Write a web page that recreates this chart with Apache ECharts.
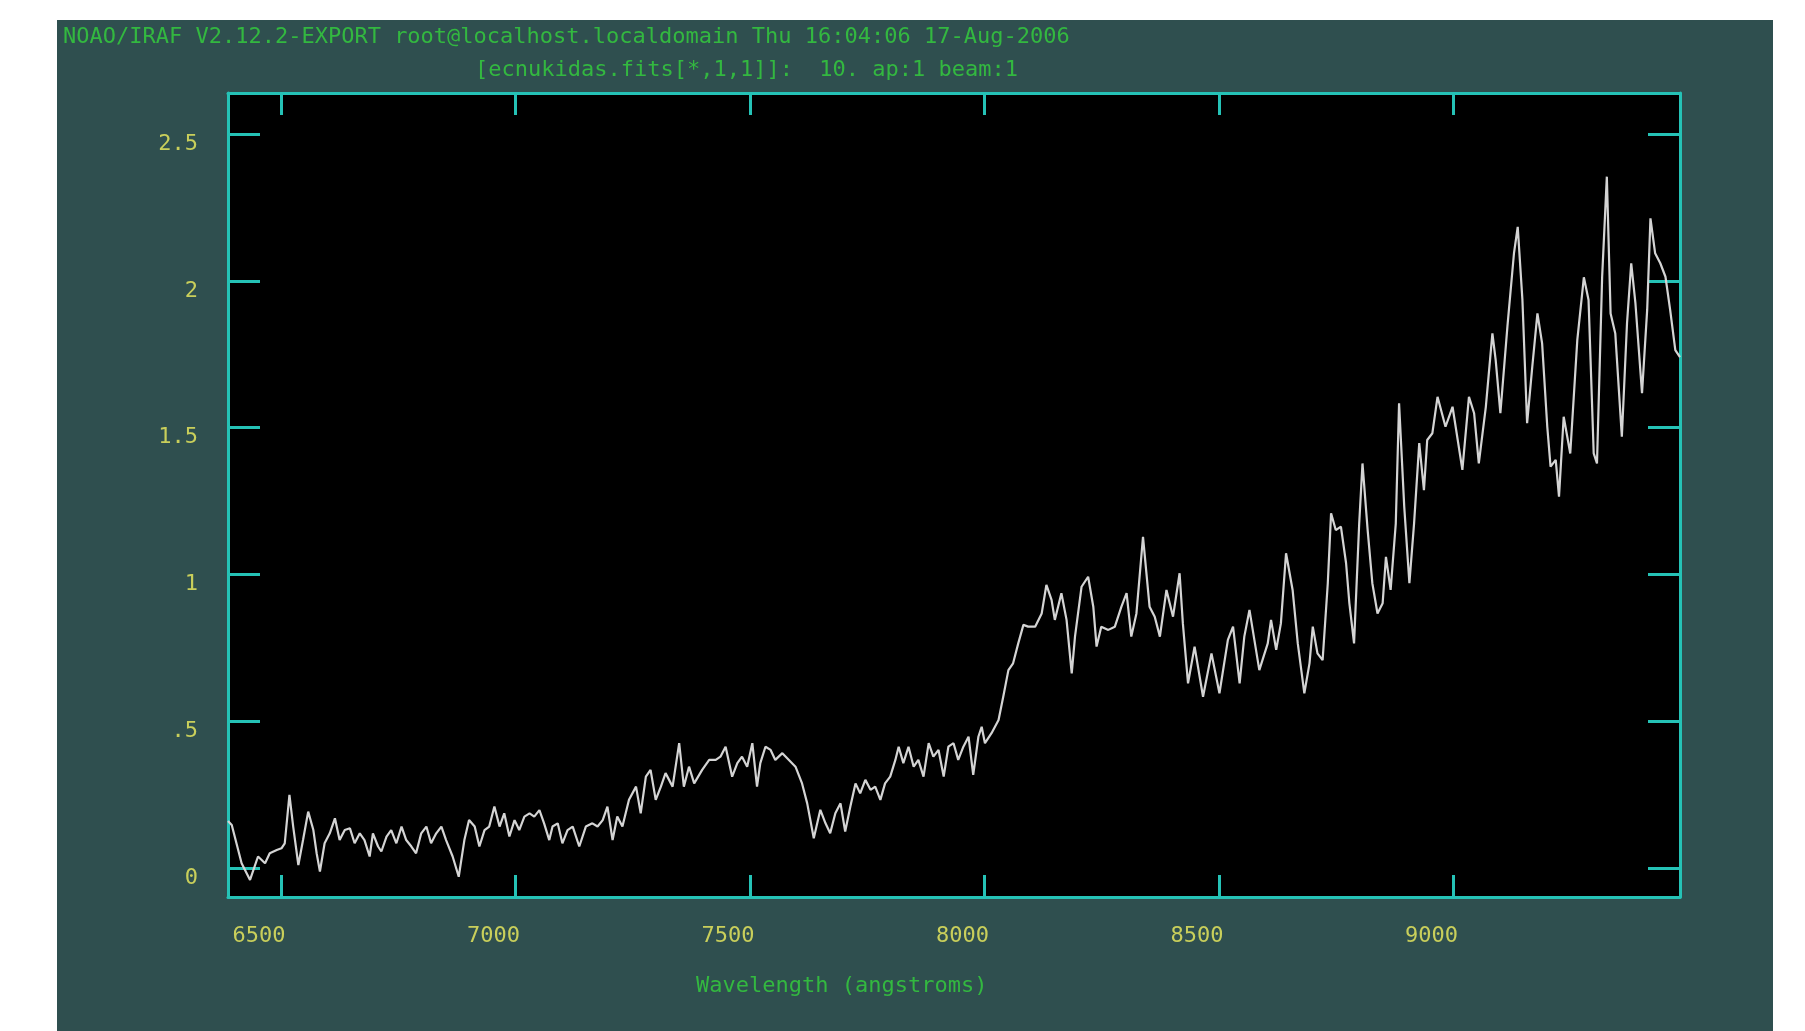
<!DOCTYPE html>
<html>
<head>
<meta charset="utf-8">
<script src="https://cdn.jsdelivr.net/npm/echarts@6/dist/echarts.min.js"></script>
<style>
  html, body { margin: 0; padding: 0; background: #ffffff; }
  #chart { position: absolute; left: 57px; top: 20px; width: 1716px; height: 1011px; }
</style>
</head>
<body>
<div id="chart"></div>
<script>
// Extracted spectrum, aperture 1: wavelength (angstroms) and flux
const wavelength = [
  6387, 6395, 6416, 6434, 6451, 6466, 6476, 6491, 6501, 6508,
  6518, 6526, 6537, 6547, 6558, 6569, 6576, 6583, 6593, 6604,
  6615, 6625, 6636, 6647, 6657, 6668, 6678, 6689, 6696, 6707,
  6714, 6725, 6735, 6746, 6757, 6767, 6778, 6788, 6799, 6810,
  6820, 6831, 6842, 6852, 6866, 6879, 6891, 6901, 6913, 6923,
  6934, 6944, 6955, 6966, 6976, 6987, 6998, 7008, 7019, 7030,
  7040, 7051, 7061, 7072, 7079, 7090, 7100, 7111, 7122, 7136,
  7150, 7164, 7175, 7186, 7196, 7207, 7217, 7228, 7242, 7257,
  7267, 7278, 7288, 7299, 7310, 7320, 7335, 7349, 7359, 7370,
  7381, 7398, 7413, 7427, 7437, 7448, 7462, 7473, 7483, 7494,
  7505, 7515, 7522, 7533, 7544, 7554, 7569, 7583, 7597, 7611,
  7622, 7636, 7650, 7661, 7671, 7682, 7693, 7703, 7714, 7725,
  7735, 7746, 7757, 7767, 7778, 7788, 7799, 7810, 7817, 7827,
  7838, 7849, 7859, 7870, 7881, 7891, 7902, 7913, 7923, 7934,
  7944, 7955, 7966, 7976, 7987, 7994, 8001, 8015, 8030, 8040,
  8051, 8061, 8072, 8083, 8093, 8108, 8122, 8132, 8143, 8150,
  8164, 8175, 8186, 8193, 8207, 8221, 8232, 8239, 8249, 8264,
  8278, 8292, 8303, 8313, 8324, 8338, 8352, 8363, 8374, 8388,
  8402, 8416, 8423, 8434, 8448, 8466, 8484, 8501, 8519, 8530,
  8544, 8554, 8565, 8586, 8604, 8611, 8622, 8632, 8643, 8657,
  8668, 8682, 8693, 8700, 8710, 8721, 8732, 8739, 8749, 8760,
  8771, 8778, 8788, 8799, 8806, 8817, 8827, 8838, 8849, 8856,
  8866, 8877, 8884, 8895, 8906, 8916, 8927, 8937, 8944, 8955,
  8966, 8983, 8998, 9019, 9033, 9044, 9054, 9069, 9083, 9090,
  9100, 9115, 9129, 9137, 9147, 9157, 9168, 9179, 9189, 9200,
  9207, 9218, 9225, 9235, 9249, 9264, 9278, 9288, 9299, 9306,
  9317, 9327, 9335, 9345, 9359, 9370, 9379, 9388, 9402, 9413,
  9420, 9430, 9441, 9452, 9462, 9473, 9483
];
const flux = [
  0.160, 0.146, 0.016, -0.041, 0.039, 0.016, 0.050, 0.061, 0.067, 0.084,
  0.249, 0.141, 0.010, 0.095, 0.192, 0.129, 0.050, -0.012, 0.084, 0.118,
  0.169, 0.095, 0.129, 0.135, 0.084, 0.118, 0.095, 0.039, 0.118, 0.073,
  0.056, 0.107, 0.129, 0.084, 0.141, 0.095, 0.073, 0.050, 0.118, 0.141,
  0.084, 0.118, 0.141, 0.095, 0.039, -0.030, 0.095, 0.163, 0.141, 0.073,
  0.129, 0.141, 0.209, 0.141, 0.186, 0.107, 0.163, 0.129, 0.175, 0.186,
  0.175, 0.197, 0.152, 0.095, 0.141, 0.152, 0.084, 0.129, 0.141, 0.073,
  0.141, 0.152, 0.141, 0.163, 0.209, 0.095, 0.175, 0.141, 0.232, 0.277,
  0.186, 0.311, 0.334, 0.232, 0.277, 0.323, 0.277, 0.425, 0.277, 0.345,
  0.288, 0.334, 0.368, 0.368, 0.379, 0.413, 0.311, 0.357, 0.379, 0.345,
  0.425, 0.277, 0.357, 0.413, 0.402, 0.368, 0.391, 0.368, 0.345, 0.288,
  0.220, 0.101, 0.198, 0.152, 0.118, 0.186, 0.220, 0.124, 0.209, 0.288,
  0.254, 0.300, 0.266, 0.277, 0.232, 0.288, 0.311, 0.368, 0.413, 0.357,
  0.413, 0.345, 0.368, 0.311, 0.425, 0.379, 0.402, 0.311, 0.413, 0.425,
  0.368, 0.413, 0.447, 0.317, 0.447, 0.481, 0.425, 0.459, 0.504, 0.583,
  0.674, 0.697, 0.765, 0.828, 0.822, 0.822, 0.867, 0.964, 0.913, 0.845,
  0.936, 0.845, 0.663, 0.788, 0.958, 0.992, 0.890, 0.754, 0.822, 0.811,
  0.822, 0.890, 0.936, 0.788, 0.867, 1.128, 0.890, 0.856, 0.788, 0.947,
  0.856, 1.004, 0.833, 0.629, 0.754, 0.583, 0.731, 0.595, 0.777, 0.822,
  0.629, 0.788, 0.879, 0.674, 0.765, 0.845, 0.743, 0.833, 1.072, 0.947,
  0.765, 0.595, 0.697, 0.822, 0.731, 0.708, 0.970, 1.208, 1.151, 1.163,
  1.038, 0.902, 0.765, 1.174, 1.378, 1.151, 0.970, 0.867, 0.902, 1.060,
  0.947, 1.174, 1.583, 1.231, 0.970, 1.174, 1.447, 1.287, 1.458, 1.481,
  1.605, 1.503, 1.571, 1.356, 1.605, 1.549, 1.378, 1.571, 1.821, 1.730,
  1.549, 1.844, 2.094, 2.184, 1.935, 1.515, 1.707, 1.889, 1.787, 1.503,
  1.367, 1.390, 1.265, 1.537, 1.412, 1.798, 2.012, 1.935, 1.412, 1.378,
  2.014, 2.355, 1.889, 1.821, 1.469, 1.855, 2.060, 1.923, 1.617, 1.901,
  2.213, 2.094, 2.060, 2.014, 1.901, 1.764, 1.740
];

// Axis ticks and their printed labels
const xTicks = [6500, 7000, 7500, 8000, 8500, 9000];
const yTicks = [0, 0.5, 1, 1.5, 2, 2.5];
const yTickLabels = ['0', '.5', '1', '1.5', '2', '2.5'];

const titleLine1 = 'NOAO/IRAF V2.12.2-EXPORT root@localhost.localdomain Thu 16:04:06 17-Aug-2006';
const titleLine2 = '[ecnukidas.fits[*,1,1]]:  10. ap:1 beam:1';
const xAxisTitle = 'Wavelength (angstroms)';

const points = wavelength.map((w, i) => [w, flux[i]]);

const FRAME = '#25c2b6';
const LABEL = '#c9cf5b';
const TITLE = '#33b840';
const MONO = "'DejaVu Sans Mono', 'Liberation Mono', monospace";

const chart = echarts.init(document.getElementById('chart'), null, { renderer: 'canvas' });

const frameLine = { show: true, onZero: false, lineStyle: { color: FRAME, width: 3 } };

chart.setOption({
  animation: false,
  backgroundColor: '#2f4f4f',
  title: [
    { text: titleLine1, left: 6, top: 6, padding: 0,
      textStyle: { color: TITLE, fontFamily: MONO, fontSize: 22, fontWeight: 'normal' } },
    { text: titleLine2, left: 418, top: 39, padding: 0,
      textStyle: { color: TITLE, fontFamily: MONO, fontSize: 22, fontWeight: 'normal' } },
    { text: xAxisTitle, left: 639, top: 955, padding: 0,
      textStyle: { color: TITLE, fontFamily: MONO, fontSize: 22, fontWeight: 'normal' } }
  ],
  grid: {
    left: 171, right: 93, top: 73, bottom: 134,
    show: true, backgroundColor: '#000000', borderWidth: 0
  },
  xAxis: [
    {
      type: 'value', position: 'bottom', min: 6387, max: 9483,
      axisLine: frameLine,
      axisTick: { show: true, inside: true, length: 22, customValues: xTicks,
                  lineStyle: { color: FRAME, width: 3 } },
      axisLabel: { show: true, customValues: xTicks, margin: 28,
                   color: LABEL, fontFamily: MONO, fontSize: 22,
                   padding: [0, 44, 0, 0],
                   formatter: v => String(v) },
      splitLine: { show: false }
    },
    {
      type: 'value', position: 'top', min: 6387, max: 9483,
      axisLine: frameLine,
      axisTick: { show: true, inside: true, length: 22, customValues: xTicks,
                  lineStyle: { color: FRAME, width: 3 } },
      axisLabel: { show: false },
      splitLine: { show: false }
    }
  ],
  yAxis: [
    {
      type: 'value', position: 'left', min: -0.099, max: 2.64,
      axisLine: frameLine,
      axisTick: { show: true, inside: true, length: 32, customValues: yTicks,
                  lineStyle: { color: FRAME, width: 3 } },
      axisLabel: { show: true, customValues: yTicks, margin: 30,
                   color: LABEL, fontFamily: MONO, fontSize: 22,
                   verticalAlign: 'top', lineHeight: 20,
                   formatter: v => {
                     const k = yTicks.findIndex(t => Math.abs(t - v) < 1e-9);
                     return k >= 0 ? yTickLabels[k] : '';
                   } },
      splitLine: { show: false }
    },
    {
      type: 'value', position: 'right', min: -0.099, max: 2.64,
      axisLine: frameLine,
      axisTick: { show: true, inside: true, length: 32, customValues: yTicks,
                  lineStyle: { color: FRAME, width: 3 } },
      axisLabel: { show: false },
      splitLine: { show: false }
    }
  ],
  series: [
    {
      type: 'line',
      xAxisIndex: 0, yAxisIndex: 0,
      data: points,
      showSymbol: false,
      silent: true,
      clip: true,
      lineStyle: { color: '#d4d4d4', width: 2.2 }
    }
  ]
});
</script>
</body>
</html>
